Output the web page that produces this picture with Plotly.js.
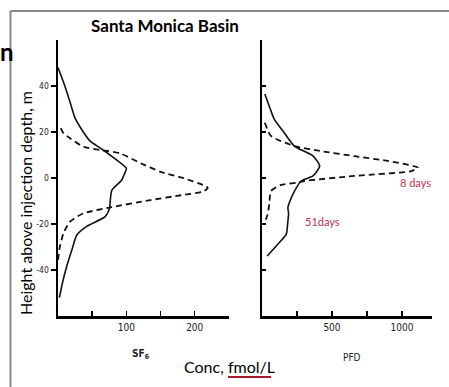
<!DOCTYPE html>
<html>
<head>
<meta charset="utf-8">
<script src="https://cdn.plot.ly/plotly-3.0.1.min.js"></script>
<style>html,body{margin:0;padding:0;background:#fff;}#chart{width:449px;height:387px;}</style>
</head>
<body>
<div id="chart"></div>
<script>
// SF6, 51 days (solid)
const sf6_51d_height = [48, 40, 33, 26, 20, 16, 13, 10, 7.8, 4.2, 1, -1, -5.2, -9.6, -13, -16.8, -21, -24.8, -31, -38.5, -45, -52];
const sf6_51d_conc   = [0, 10, 17.6, 25, 37, 47, 62, 76, 86, 100, 96, 93, 79, 76.5, 75.5, 69, 42, 27.5, 20.6, 12.7, 7, 2];
// SF6, 8 days (dashed)
const sf6_8d_height = [21.7, 19.5, 17.3, 13.6, 12.2, 10.7, 6.4, 2.7, -0.1, -3, -4.2, -5.8, -7.5, -9.6, -12.8, -15.4, -19, -24, -31, -36];
const sf6_8d_conc   = [4, 8, 17.6, 37, 62, 91, 121, 150, 184, 212, 219, 213, 180, 135, 76.5, 37, 17.6, 8, 2, 0];
// PFD, 51 days (solid)
const pfd_51d_height = [36.5, 30, 25.5, 20, 13.9, 9.6, 5.2, 0.9, -1.3, -5.7, -10, -12.9, -15.5, -18.7, -22, -24.5, -28.8, -33.9];
const pfd_51d_conc   = [20, 59, 88, 155, 231, 364, 412, 364, 280, 232, 200, 185, 190, 185, 180, 173, 113, 37];
// PFD, 8 days (dashed)
const pfd_8d_height = [24, 18.3, 13.9, 11.7, 9.5, 7.4, 4.5, 3, 0.9, -1.3, -2, -3, -5.7, -11.4, -15.8, -20];
const pfd_8d_conc   = [20, 64, 231, 422, 660, 900, 1115, 1067, 661, 303, 255, 136, 64, 52, 40, 16];

const left_xtick_vals = [50, 100, 150, 200, 250];
const left_xtick_text = ["", "100", "", "200", ""];
const right_xtick_vals = [250, 500, 750, 1000];
const right_xtick_text = ["", "500", "", "1000"];
const ytick_vals = [-40, -20, 0, 20, 40];
const ytick_text = ["-40", "-20", "0", "20", "40"];

const lineStyle = {color: "#111", width: 1.6};
const dashStyle = {color: "#111", width: 1.8, dash: "6px,4px"};

const traces = [
  {x: sf6_51d_conc, y: sf6_51d_height, xaxis: "x", yaxis: "y", mode: "lines", line: Object.assign({shape: "spline", smoothing: 0.6}, lineStyle), name: "SF6 51 days"},
  {x: sf6_8d_conc, y: sf6_8d_height, xaxis: "x", yaxis: "y", mode: "lines", line: Object.assign({shape: "spline", smoothing: 0.6}, dashStyle), name: "SF6 8 days"},
  {x: pfd_51d_conc, y: pfd_51d_height, xaxis: "x2", yaxis: "y2", mode: "lines", line: Object.assign({shape: "spline", smoothing: 0.6}, lineStyle), name: "PFD 51 days"},
  {x: pfd_8d_conc, y: pfd_8d_height, xaxis: "x2", yaxis: "y2", mode: "lines", line: Object.assign({shape: "spline", smoothing: 0.6}, dashStyle), name: "PFD 8 days"}
];

const xTickFont = {family: "DejaVu Sans Condensed, Liberation Sans Narrow, sans-serif", size: 10, color: "#222"};
const yTickFont = {family: "DejaVu Sans Condensed, Liberation Sans Narrow, sans-serif", size: 8.5, color: "#222"};
const axisCommon = {showgrid: false, zeroline: false, showline: true, linecolor: "#000", linewidth: 2.5, tickcolor: "#000", tickwidth: 1.5, tickfont: xTickFont, fixedrange: true};

function ann(text, px, py, font, extra) {
  return Object.assign({text: text, xref: "paper", yref: "paper", x: (px - 58) / 374, y: (316 - py) / 276,
    xanchor: "center", yanchor: "middle", showarrow: false, font: font}, extra || {});
}

const layout = {
  width: 449, height: 387,
  margin: {l: 58, r: 17, t: 40, b: 71},
  paper_bgcolor: "#fff", plot_bgcolor: "#fff",
  showlegend: false,
  font: {family: "Lato, Open Sans, sans-serif", color: "#000"},
  title: {text: "<b>Santa Monica Basin</b>", font: {family: "Lato, sans-serif", size: 17, color: "#000"}, x: 165/449, y: 1 - 26/387, xanchor: "center", yanchor: "middle", xref: "container", yref: "container"},
  xaxis: Object.assign({}, axisCommon, {domain: [0, 0.457], range: [0, 250], tickmode: "array", tickvals: left_xtick_vals, ticktext: left_xtick_text, ticks: "inside", ticklen: 5, anchor: "y"}),
  yaxis: Object.assign({}, axisCommon, {range: [-60, 60], tickmode: "array", tickvals: ytick_vals, ticktext: ytick_text, ticks: "outside", ticklen: 5, tickfont: yTickFont, anchor: "x"}),
  xaxis2: Object.assign({}, axisCommon, {domain: [0.5455, 1], range: [0, 1215], tickmode: "array", tickvals: right_xtick_vals, ticktext: right_xtick_text, ticks: "inside", ticklen: 5, anchor: "y2"}),
  yaxis2: Object.assign({}, axisCommon, {range: [-60, 60], tickmode: "array", tickvals: ytick_vals, ticktext: ["", "", "", "", ""], ticks: "inside", ticklen: 4, anchor: "x2"}),
  annotations: [
    ann("<b>n</b>", 7, 52, {family: "Lato, sans-serif", size: 24, color: "#000"}),
    ann("Height above injection depth, m", 25, 203, {family: "Lato, sans-serif", size: 16, color: "#000"}, {textangle: -90}),
    ann("Conc, fmol/L", 229, 366, {family: "Lato, sans-serif", size: 16, color: "#000"}),
    ann("<b>SF<sub>6</sub></b>", 141, 354, {family: "DejaVu Sans Condensed, sans-serif", size: 10, color: "#222"}),
    ann("PFD", 352, 357, {family: "DejaVu Sans Condensed, sans-serif", size: 10, color: "#222"}),
    ann("8 days", 415, 182, {family: "Lato, sans-serif", size: 11, color: "#C0304F"}),
    ann("51days", 322, 221, {family: "Lato, sans-serif", size: 11, color: "#C0304F"})
  ],
  shapes: [
    {type: "line", xref: "paper", yref: "paper", x0: -0.127, x1: 1.05, y0: 1.105, y1: 1.105, line: {color: "#888", width: 2}},
    {type: "line", xref: "paper", yref: "paper", x0: -0.127, x1: -0.127, y0: 1.105, y1: -0.26, line: {color: "#888", width: 2}},
    {type: "line", xref: "paper", yref: "paper", x0: (228 - 58) / 374, x1: (271 - 58) / 374, y0: (316 - 377) / 276, y1: (316 - 377) / 276, line: {color: "#A6192E", width: 2}}
  ]
};

Plotly.newPlot("chart", traces, layout, {displayModeBar: false, staticPlot: true});
</script>
</body>
</html>
